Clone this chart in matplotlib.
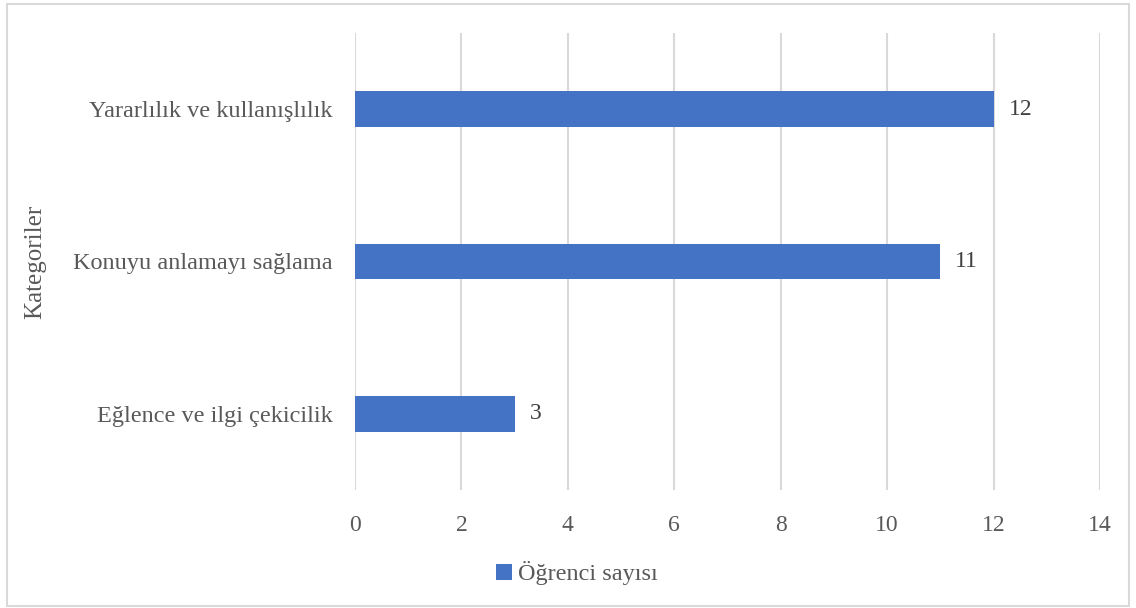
import matplotlib
matplotlib.use("Agg")
import matplotlib.pyplot as plt
from matplotlib.patches import Rectangle

# data
categories = ["Eğlence ve ilgi çekicilik", "Konuyu anlamayı sağlama", "Yararlılık ve kullanışlılık"]
counts = [3, 11, 12]
x_ticks = [0, 2, 4, 6, 8, 10, 12, 14]
series_name = "Öğrenci sayısı"
axis_title = "Kategoriler"

bar_color = "#4472C4"
grid_color = "#D9D9D9"
text_color = "#595959"

plt.rcParams["font.family"] = ["Liberation Serif", "DejaVu Serif"]

fig = plt.figure(figsize=(11.36, 6.08), dpi=100)
ax = fig.add_axes([0.3125, 0.194, 0.6558, 0.752])

bars = ax.barh(range(len(categories)), counts, height=0.235, color=bar_color,
               label=series_name, zorder=3)
for b, v in zip(bars, counts):
    ax.text(b.get_width() + 0.28, b.get_y() + b.get_height() / 2, str(v),
            va="center", ha="left", fontsize=17, color="#404040")

ax.set_xlim(0, 14)
ax.set_ylim(-0.5, len(categories) - 0.5)
ax.set_xticks(x_ticks)
ax.set_yticks(range(len(categories)))
ax.set_yticklabels(categories, fontsize=17.5)
ax.tick_params(axis="both", length=0, labelcolor=text_color)
ax.tick_params(axis="x", pad=18, labelsize=17)
ax.tick_params(axis="y", pad=16)
ax.grid(axis="x", color=grid_color, linewidth=1.5, zorder=0)
for s in ax.spines.values():
    s.set_visible(False)

ax.set_ylabel(axis_title, fontsize=18, color=text_color)
ax.yaxis.set_label_coords(-0.414, 0.5)

fig.legend(loc="center", bbox_to_anchor=(0.508, 0.057), frameon=False,
           fontsize=17.5, labelcolor=text_color, handlelength=0.65, handleheight=0.65,
           handletextpad=0.25)

fig.patches.append(Rectangle((0.006, 0.004), 0.988, 0.99, transform=fig.transFigure,
                             fill=False, edgecolor=grid_color, linewidth=1.5))

fig.savefig("out.png", dpi=100)
